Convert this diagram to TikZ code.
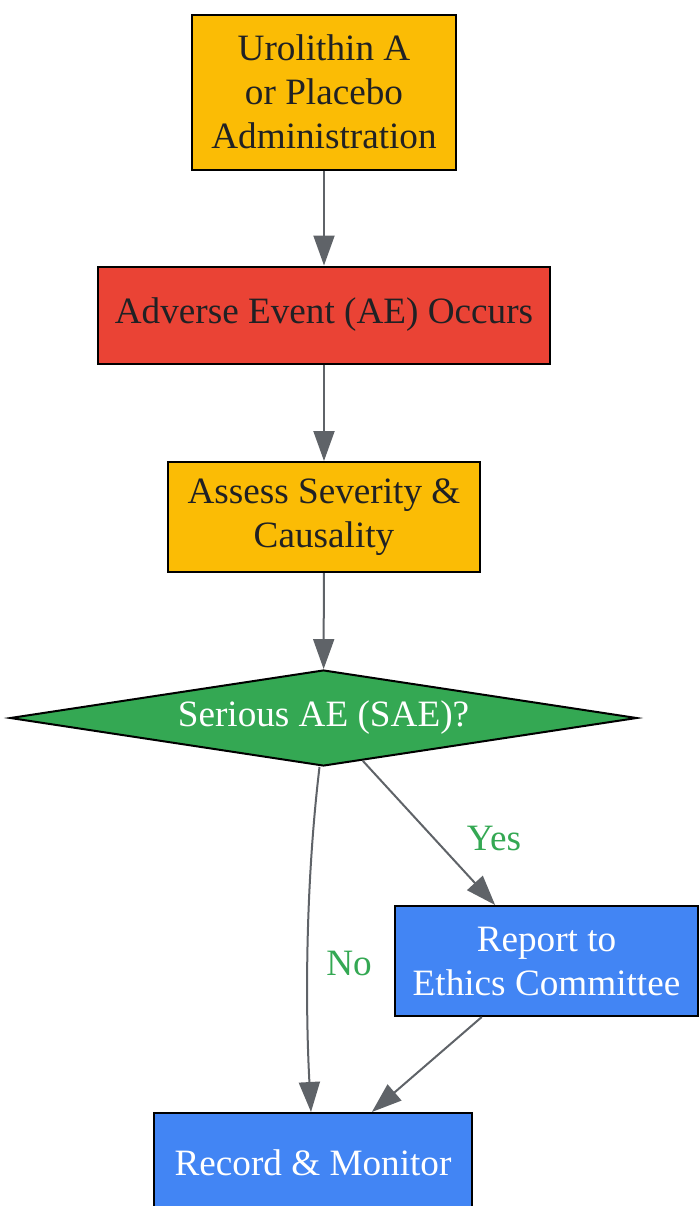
\documentclass[tikz,border=0pt]{standalone}
\usepackage{fontspec}
\setmainfont{Liberation Serif}
\usetikzlibrary{shapes.geometric,arrows.meta}
\definecolor{gyellow}{HTML}{FBBC05}
\definecolor{gred}{HTML}{EA4335}
\definecolor{ggreen}{HTML}{34A853}
\definecolor{gblue}{HTML}{4285F4}
\definecolor{ggray}{HTML}{5F6368}
\definecolor{gtext}{HTML}{202124}

\begin{document}
\begin{tikzpicture}[x=0.5pt, y=-0.5pt,
  font=\fontsize{18.6}{22}\selectfont,
  box/.style={draw=black, line width=1pt, rectangle, align=center, inner sep=0pt},
  decision/.style={draw=black, line width=1pt, diamond, aspect=6.5, align=center, inner sep=0pt},
  flow/.style={draw=ggray, line width=1pt, -{Triangle[length=15pt, width=10.5pt]}},
  lbl/.style={text=ggreen}]
\useasboundingbox (0,0) rectangle (698,1206);
\node[box, fill=gyellow, text=gtext, minimum width=132pt, minimum height=77.5pt] (admin) at (324,92) {Urolithin A\\or Placebo\\Administration};
\node[box, fill=gred, text=gtext, minimum width=226pt, minimum height=48.5pt] (ae) at (324,315) {Adverse Event (AE) Occurs};
\node[box, fill=gyellow, text=gtext, minimum width=156pt, minimum height=55pt] (assess) at (324,517) {Assess Severity \&\\Causality};
\node[decision, fill=ggreen, text=white, minimum width=313.5pt, minimum height=48pt] (sae) at (323.5,718) {Serious AE (SAE)?};
\node[box, fill=gblue, text=white, minimum width=151.5pt, minimum height=55pt] (report) at (546.5,961) {Report to\\Ethics Committee};
\node[box, fill=gblue, text=white, minimum width=159pt, minimum height=50pt] (record) at (313,1163) {Record \& Monitor};
\draw[flow] (admin) -- (ae);
\draw[flow] (ae) -- (assess);
\draw[flow] (assess) -- (sae);
\draw[flow] (sae) -- (report);
\draw[flow] ([xshift=-2pt]sae.south) .. controls (306,880) and (305,1000) .. ([xshift=-1pt]record.north);
\draw[flow] (report) -- (record);
\node[lbl] (yes) at (494,838) {Yes};
\node[lbl] (no) at (349,963) {No};
\end{tikzpicture}
\end{document}
